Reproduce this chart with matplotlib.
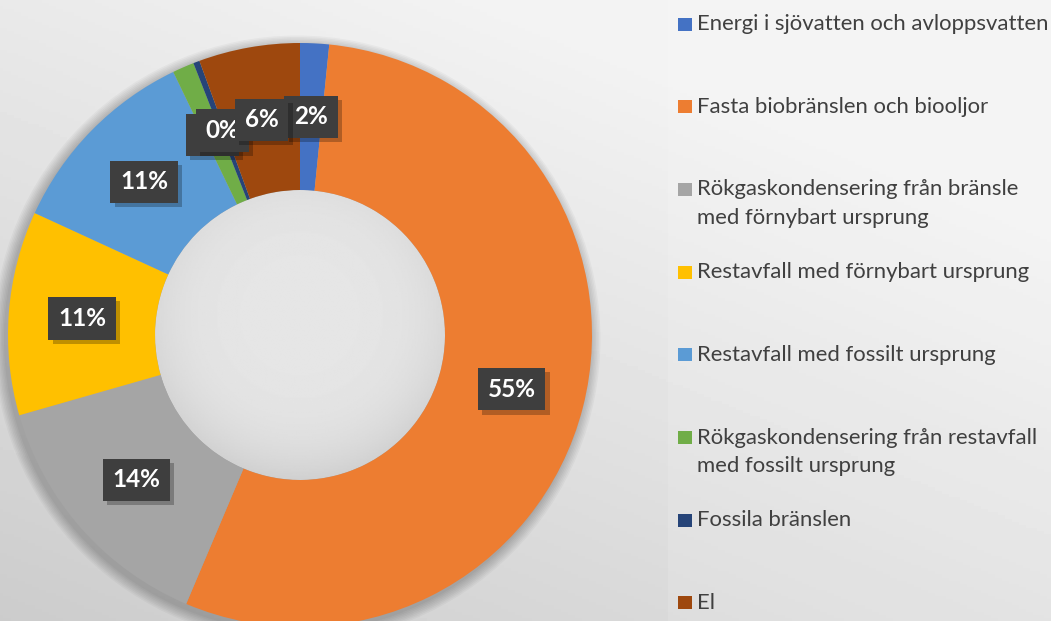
import matplotlib
matplotlib.use("Agg")
import matplotlib.pyplot as plt
import matplotlib.patheffects as pe
from matplotlib.patches import Circle, Rectangle
import numpy as np

# ── Data ──
categories = [
    "Energi i sjövatten och avloppsvatten",
    "Fasta biobränslen och biooljor",
    "Rökgaskondensering från bränsle\nmed förnybart ursprung",
    "Restavfall med förnybart ursprung",
    "Restavfall med fossilt ursprung",
    "Rökgaskondensering från restavfall\nmed fossilt ursprung",
    "Fossila bränslen",
    "El",
]
shares = [1.6, 54.8, 14.2, 11.3, 11.0, 1.2, 0.35, 5.6]
colors = ["#4472C4", "#ED7D31", "#A5A5A5", "#FFC000",
          "#5B9BD5", "#70AD47", "#264478", "#9E480E"]

W, H = 1051, 621
CX, CY = 300, H - 335
R_OUT, R_IN = 292, 145

plt.rcParams["font.family"] = ["Lato", "DejaVu Sans"]

fig = plt.figure(figsize=(W / 100, H / 100), dpi=100)
ax = fig.add_axes([0, 0, 1, 1])

# ── Background gradient ──
xx, yy = np.meshgrid(np.linspace(0, W, 300), np.linspace(0, H, 200))
bg = 0.80 + 0.045 * (xx / 600) + 0.115 * (yy / H)
bg = np.clip(bg, 0.78, 0.955)
ax.imshow(bg, extent=(0, W, 0, H), origin="lower", cmap="gray",
          vmin=0, vmax=1, aspect="auto", zorder=0)

# legend panel, slightly lighter
ax.add_patch(Rectangle((668, 0), W - 668, H, facecolor="white", alpha=0.12,
                       edgecolor="none", zorder=0.5))

# ── Soft shadow under the ring ──
for k in range(8):
    ax.add_patch(Circle((CX - 3, CY - 4), R_OUT + 1 + 1.5 * k, facecolor="black",
                        alpha=0.03, edgecolor="none", zorder=1))

# hole with radial shading
hole = Circle((CX, CY), R_IN, facecolor="none", edgecolor="none", zorder=2)
ax.add_patch(hole)
hx, hy = np.meshgrid(np.linspace(CX - R_IN, CX + R_IN, 200),
                     np.linspace(CY - R_IN, CY + R_IN, 200))
rr = np.hypot(hx - CX, hy - (CY + 20)) / R_IN
hv = 0.90 - 0.05 * np.clip(rr, 0, 1.3) ** 4
im = ax.imshow(hv, extent=(CX - R_IN, CX + R_IN, CY - R_IN, CY + R_IN),
               origin="lower", cmap="gray", vmin=0, vmax=1, zorder=2)
im.set_clip_path(hole)

# ── Donut ──
wedges, texts, autotexts = ax.pie(
    shares, colors=colors, startangle=90, counterclock=False,
    radius=R_OUT, center=(CX, CY),
    wedgeprops=dict(width=R_OUT - R_IN, edgecolor="none"),
    autopct=lambda p: f"{p:.0f}%", pctdistance=(R_OUT + R_IN) / 2 / R_OUT,
)
for w in wedges:
    w.set_zorder(3)

for i, t in enumerate(autotexts):
    t.set_color("white")
    t.set_fontsize(17.5)
    t.set_fontweight("bold")
    t.set_zorder(10 + i)
    t.set_bbox(dict(boxstyle="square,pad=0.4", facecolor="#3e3e3e",
                    edgecolor="none", linewidth=0))
    t.get_bbox_patch().set_path_effects([
        pe.SimplePatchShadow(offset=(3, -3), shadow_rgbFace="black", alpha=0.25),
        pe.Normal()])

ax.set_xlim(0, W)
ax.set_ylim(0, H)
ax.set_aspect("auto")
ax.axis("off")

# ── Legend ──
y0, step = 24, 82.7
for i, (name, c) in enumerate(zip(categories, colors)):
    yc = H - (y0 + i * step)
    ax.add_patch(Rectangle((678, yc - 6.5), 14, 13, facecolor=c,
                           edgecolor="none", zorder=5))
    for j, line in enumerate(name.split("\n")):
        ax.text(697, yc - j * 29, line, fontsize=15.9, color="#404040",
                va="center", ha="left", zorder=5)

fig.savefig("out.png", dpi=100)
